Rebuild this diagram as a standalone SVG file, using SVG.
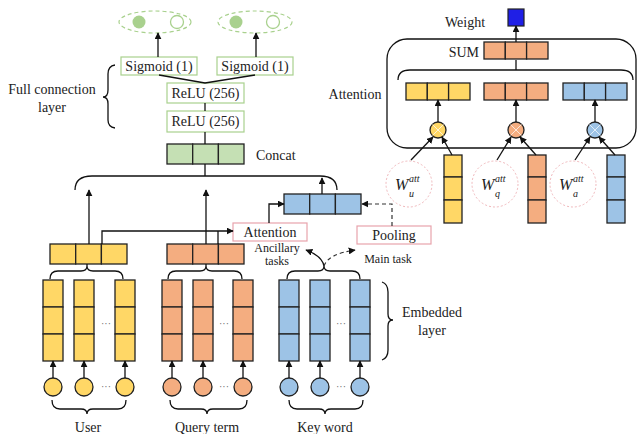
<svg xmlns="http://www.w3.org/2000/svg" width="638" height="434" viewBox="0 0 638 434">
<defs>
<style>
text{font-family:"Liberation Serif","Times New Roman",serif;fill:#222;}
.t14{font-size:14px;}
.t12{font-size:12px;}
.wi{font-size:16px;font-style:italic;}
.ws{font-size:10px;font-style:italic;}
.ln{fill:none;stroke:#111;stroke-width:1.3;}
.dash{fill:none;stroke:#333;stroke-width:1.2;stroke-dasharray:4 3;}
.y{fill:#FFD766;stroke:#222;stroke-width:1.3;}
.o{fill:#F4AD80;stroke:#222;stroke-width:1.3;}
.b{fill:#9DC3E6;stroke:#222;stroke-width:1.3;}
.g{fill:#C5E0B4;stroke:#222;stroke-width:1.3;}
.fc{fill:#fff;stroke:#A9D18E;stroke-width:1.2;}
.pk{fill:#fff;stroke:#E8A3AC;stroke-width:1.2;}
.wc{fill:none;stroke:#F0B8BC;stroke-width:1;stroke-dasharray:2 2;}
.dots{font-size:10px;fill:#666;}
</style>
<marker id="ah" viewBox="0 0 10 10" refX="9" refY="5" markerWidth="7" markerHeight="7" markerUnits="userSpaceOnUse" orient="auto">
<path d="M0,0 L10,5 L0,10 z" fill="#111"/>
</marker>
<g id="col3"><rect x="0" y="0" width="20" height="27"/><rect x="0" y="27" width="20" height="27"/><rect x="0" y="54" width="20" height="27"/></g>
<g id="row3"><rect x="0" y="0" width="25.7" height="20"/><rect x="25.7" y="0" width="25.7" height="20"/><rect x="51.4" y="0" width="25.6" height="20"/></g>
<g id="srow3"><rect x="0" y="0" width="21.3" height="17"/><rect x="21.3" y="0" width="21.3" height="17"/><rect x="42.6" y="0" width="21.4" height="17"/></g>
<g id="vcol"><rect x="0" y="0" width="18" height="22"/><rect x="0" y="22" width="18" height="23"/><rect x="0" y="45" width="18" height="23"/></g>
</defs>
<rect width="638" height="434" fill="#fff"/>

<!-- Output ellipses -->
<g id="out1">
<ellipse cx="155" cy="22" rx="36" ry="11" fill="none" stroke="#A9D18E" stroke-width="1.2" stroke-dasharray="4 3"/>
<circle cx="139" cy="22" r="6.5" fill="#A9D18E"/>
<circle cx="177" cy="22" r="6.5" fill="#fff" stroke="#A9D18E" stroke-width="1.3"/>
</g>
<g id="out2">
<ellipse cx="255" cy="22" rx="37" ry="11" fill="none" stroke="#A9D18E" stroke-width="1.2" stroke-dasharray="4 3"/>
<circle cx="236" cy="22" r="6.5" fill="#A9D18E"/>
<circle cx="273" cy="22" r="6.5" fill="#fff" stroke="#A9D18E" stroke-width="1.3"/>
</g>

<g id="sig1"><rect class="fc" x="121" y="57" width="76" height="18"/><text class="t14" x="159" y="71" text-anchor="middle">Sigmoid (1)</text></g>
<g id="sig2"><rect class="fc" x="217" y="57" width="76" height="18"/><text class="t14" x="255" y="71" text-anchor="middle">Sigmoid (1)</text></g>
<g id="relu1"><rect class="fc" x="167" y="83" width="77" height="20"/><text class="t14" x="205.5" y="98" text-anchor="middle">ReLU (256)</text></g>
<g id="relu2"><rect class="fc" x="167" y="111" width="77" height="21"/><text class="t14" x="205.5" y="126" text-anchor="middle">ReLU (256)</text></g>
<g id="concat"><use href="#row3" class="g" x="167" y="144"/><text class="t14" x="256" y="160">Concat</text></g>

<g id="fcl">
<path class="ln" d="M115,65 Q108,66 108,74 L108,90 Q108,97 103,97 Q108,97 108,104 L108,120 Q108,127 115,128"/>
<text class="t14" x="52" y="94" text-anchor="middle">Full connection</text>
<text class="t14" x="52" y="112" text-anchor="middle">layer</text>
</g>

<!-- embedding blocks -->
<g id="userPool"><use href="#row3" class="y" x="50" y="244"/></g>
<g id="queryPool"><use href="#row3" class="o" x="167" y="244"/></g>
<g id="kwOut"><use href="#row3" class="b" x="284" y="194"/></g>
<g id="attBox"><rect class="pk" x="233" y="223" width="74" height="18"/><text class="t14" x="270" y="237" text-anchor="middle">Attention</text></g>
<g id="poolBox"><rect class="pk" x="357" y="226" width="74" height="18"/><text class="t14" x="394" y="240" text-anchor="middle">Pooling</text></g>
<g id="taskLabels">
<text class="t12" x="277" y="252" text-anchor="middle">Ancillary</text>
<text class="t12" x="277" y="265" text-anchor="middle">tasks</text>
<text class="t12" x="388" y="263" text-anchor="middle">Main task</text>
</g>

<g id="userEmb">
<use href="#col3" class="y" x="43" y="280"/><use href="#col3" class="y" x="74" y="280"/><use href="#col3" class="y" x="115" y="280"/>
<text class="dots" x="106" y="327" text-anchor="middle">···</text>
<circle class="y" cx="53" cy="387" r="9"/><circle class="y" cx="84" cy="387" r="9"/><circle class="y" cx="125" cy="387" r="9"/>
<text class="dots" x="106" y="390" text-anchor="middle">···</text>
</g>
<g id="queryEmb">
<use href="#col3" class="o" x="162" y="280"/><use href="#col3" class="o" x="193" y="280"/><use href="#col3" class="o" x="233" y="280"/>
<text class="dots" x="224" y="327" text-anchor="middle">···</text>
<circle class="o" cx="172" cy="387" r="9"/><circle class="o" cx="203" cy="387" r="9"/><circle class="o" cx="243" cy="387" r="9"/>
<text class="dots" x="224" y="390" text-anchor="middle">···</text>
</g>
<g id="kwEmb">
<use href="#col3" class="b" x="279" y="280"/><use href="#col3" class="b" x="310" y="280"/><use href="#col3" class="b" x="350" y="280"/>
<text class="dots" x="341" y="327" text-anchor="middle">···</text>
<circle class="b" cx="289" cy="387" r="9"/><circle class="b" cx="320" cy="387" r="9"/><circle class="b" cx="360" cy="387" r="9"/>
<text class="dots" x="341" y="390" text-anchor="middle">···</text>
</g>
<g id="labels">
<text class="t14" x="88" y="432" text-anchor="middle">User</text>
<text class="t14" x="207" y="432" text-anchor="middle">Query term</text>
<text class="t14" x="325" y="432" text-anchor="middle">Key word</text>
</g>
<g id="embLayer">
<path class="ln" d="M382,282 Q388,284 388,292 L388,314 Q388,320 393,320 Q388,320 388,326 L388,350 Q388,358 382,360"/>
<text class="t14" x="432" y="317" text-anchor="middle">Embedded</text>
<text class="t14" x="432" y="335" text-anchor="middle">layer</text>
</g>

<!-- Right attention panel -->
<g id="attPanel">
<rect x="387" y="39" width="249" height="109" rx="20" fill="none" stroke="#111" stroke-width="1.3"/>
<text class="t14" x="355" y="99" text-anchor="middle">Attention</text>
</g>
<g id="weight"><rect x="508" y="9" width="16" height="17" fill="#1F1FE6" stroke="#222" stroke-width="1.2"/><text class="t14" x="445" y="27">Weight</text></g>
<g id="sum"><use href="#srow3" class="o" x="484" y="42"/><text class="t14" x="479" y="57" text-anchor="end">SUM</text></g>
<g id="aU"><use href="#srow3" class="y" x="406" y="83"/></g>
<g id="aQ"><use href="#srow3" class="o" x="484" y="83"/></g>
<g id="aA"><use href="#srow3" class="b" x="563" y="83"/></g>
<g id="mU"><circle class="y" cx="438" cy="130" r="8"/><path d="M432.5,124.5 L443.5,135.5 M443.5,124.5 L432.5,135.5" stroke="#fff" stroke-width="0.9" opacity="0.8"/></g>
<g id="mQ"><circle class="o" cx="516" cy="130" r="8"/><path d="M510.5,124.5 L521.5,135.5 M521.5,124.5 L510.5,135.5" stroke="#fff" stroke-width="0.9" opacity="0.8"/></g>
<g id="mA"><circle class="b" cx="595" cy="130" r="8"/><path d="M589.5,124.5 L600.5,135.5 M600.5,124.5 L589.5,135.5" stroke="#fff" stroke-width="0.9" opacity="0.8"/></g>
<g id="wU"><circle class="wc" cx="409" cy="184" r="23"/><text class="wi" x="395" y="190">W</text><text class="ws" x="409" y="182">att</text><text class="ws" x="409" y="197">u</text></g>
<g id="wQ"><circle class="wc" cx="495" cy="184" r="23"/><text class="wi" x="481" y="190">W</text><text class="ws" x="495" y="182">att</text><text class="ws" x="495" y="197">q</text></g>
<g id="wA"><circle class="wc" cx="573" cy="184" r="23"/><text class="wi" x="559" y="190">W</text><text class="ws" x="573" y="182">att</text><text class="ws" x="573" y="197">a</text></g>
<g id="vU"><use href="#vcol" class="y" x="444" y="155"/></g>
<g id="vQ"><use href="#vcol" class="o" x="528" y="155"/></g>
<g id="vA"><use href="#vcol" class="b" x="607" y="155"/></g>

<g id="connectors">
<line class="ln" x1="158" y1="57" x2="158" y2="33" marker-end="url(#ah)"/>
<line class="ln" x1="256" y1="57" x2="256" y2="33" marker-end="url(#ah)"/>
<path class="ln" d="M159,75 L205,83 L255,75"/>
<line class="ln" x1="205" y1="103" x2="205" y2="111"/>
<line class="ln" x1="205" y1="132" x2="205" y2="144"/>
<line class="ln" x1="205" y1="164" x2="205" y2="176"/>
<path class="ln" d="M75,190 Q75,176 92,176 L320,176 Q337,176 337,190"/>
<line class="ln" x1="89" y1="244" x2="89" y2="190" marker-end="url(#ah)"/>
<line class="ln" x1="206" y1="244" x2="206" y2="190" marker-end="url(#ah)"/>
<line class="ln" x1="322" y1="194" x2="322" y2="178" marker-end="url(#ah)"/>
<path class="ln" d="M102,244 L102,231 L233,231" marker-end="url(#ah)"/>
<line class="ln" x1="218" y1="244" x2="218" y2="231"/>
<path class="ln" d="M269,223 L269,204 L284,204" marker-end="url(#ah)"/>
<path class="dash" d="M392,226 L392,204 L362,204" marker-end="url(#ah)"/>
<path class="ln" d="M50,279 Q50,271 58,271 L81,271 Q87,271 87,266 L87,264 M87,266 Q87,271 93,271 L115,271 Q123,271 123,279"/>
<path class="ln" d="M168,279 Q168,271 176,271 L200,271 Q206,271 206,266 L206,264 M206,266 Q206,271 212,271 L234,271 Q242,271 242,279"/>
<path class="ln" d="M287,279 Q287,271 295,271 L318,271 Q324,271 324,266 Q324,271 330,271 L352,271 Q360,271 360,279"/>
<path class="ln" d="M324,266 Q322,256 306,250" marker-end="url(#ah)"/>
<path class="dash" d="M324,266 Q328,254 355,250" marker-end="url(#ah)"/>
<g class="ln">
<line x1="53" y1="378" x2="53" y2="361" marker-end="url(#ah)"/><line x1="84" y1="378" x2="84" y2="361" marker-end="url(#ah)"/><line x1="125" y1="378" x2="125" y2="361" marker-end="url(#ah)"/>
<line x1="172" y1="378" x2="172" y2="361" marker-end="url(#ah)"/><line x1="203" y1="378" x2="203" y2="361" marker-end="url(#ah)"/><line x1="243" y1="378" x2="243" y2="361" marker-end="url(#ah)"/>
<line x1="289" y1="378" x2="289" y2="361" marker-end="url(#ah)"/><line x1="320" y1="378" x2="320" y2="361" marker-end="url(#ah)"/><line x1="360" y1="378" x2="360" y2="361" marker-end="url(#ah)"/>
</g>
<path class="ln" d="M52,400 Q52,409 60,409 L81,409 Q87,409 87,414 Q87,409 93,409 L118,409 Q126,409 126,400"/>
<path class="ln" d="M170,400 Q170,409 178,409 L201,409 Q207,409 207,414 Q207,409 213,409 L239,409 Q247,409 247,400"/>
<path class="ln" d="M289,400 Q289,409 297,409 L319,409 Q325,409 325,414 Q325,409 331,409 L355,409 Q363,409 363,400"/>
<line class="ln" x1="516" y1="42" x2="516" y2="26" marker-end="url(#ah)"/>
<line class="ln" x1="516" y1="60" x2="516" y2="70"/>
<path class="ln" d="M398,80 Q398,70 410,70 L621,70 Q633,70 633,80"/>
<line class="ln" x1="438" y1="122" x2="438" y2="100" marker-end="url(#ah)"/>
<line class="ln" x1="516" y1="122" x2="516" y2="100" marker-end="url(#ah)"/>
<line class="ln" x1="595" y1="122" x2="595" y2="100" marker-end="url(#ah)"/>
<line class="ln" x1="411" y1="160" x2="433" y2="137" marker-end="url(#ah)"/>
<line class="ln" x1="452" y1="155" x2="442" y2="137" marker-end="url(#ah)"/>
<line class="ln" x1="497" y1="160" x2="511" y2="137" marker-end="url(#ah)"/>
<line class="ln" x1="536" y1="155" x2="520" y2="137" marker-end="url(#ah)"/>
<line class="ln" x1="575" y1="160" x2="590" y2="137" marker-end="url(#ah)"/>
<line class="ln" x1="615" y1="155" x2="599" y2="137" marker-end="url(#ah)"/>
</g>
</svg>
